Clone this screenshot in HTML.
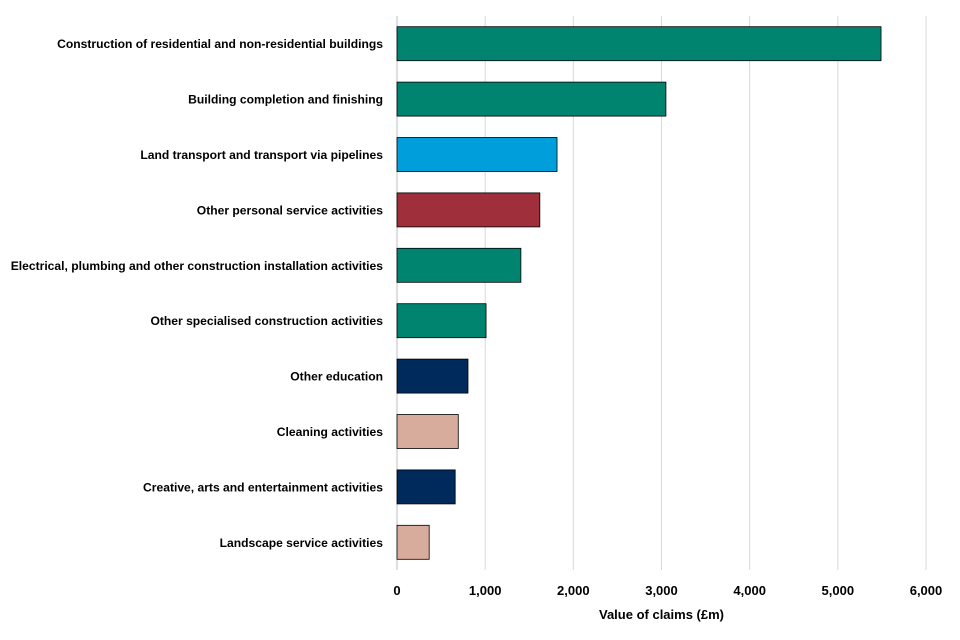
<!DOCTYPE html>
<html><head><meta charset="utf-8"><style>
html,body{margin:0;padding:0;background:#fff;}
svg{display:block;font-family:"Liberation Sans",Arial,sans-serif;}
</style></head><body>
<svg id="chart" width="960" height="640"></svg>
<script>
const categories=["Construction of residential and non-residential buildings","Building completion and finishing","Land transport and transport via pipelines","Other personal service activities","Electrical, plumbing and other construction installation activities","Other specialised construction activities","Other education","Cleaning activities","Creative, arts and entertainment activities","Landscape service activities"];
const values=[5490,3050,1815,1620,1405,1010,805,695,660,365];
const colorGroups=["construction","construction","transport","personal","construction","construction","education","cleaning","education","cleaning"];
const tickValues=[0,1000,2000,3000,4000,5000,6000];
const tickLabels=["0","1,000","2,000","3,000","4,000","5,000","6,000"];
const palette={construction:"#008470",transport:"#009fdb",personal:"#9e2f3b",education:"#002a5c",cleaning:"#d8ac9c"};
const NS="http://www.w3.org/2000/svg";
const svgEl=document.getElementById('chart');
const x0=397,x1=926,plotTop=16,plotBottom=570,xmax=6000;
const xs=v=>x0+(v/xmax)*(x1-x0);
const band=(plotBottom-plotTop)/categories.length;
const yc=i=>plotTop+band*(i+0.5);
const barH=34;
function mk(tag,attrs){const e=document.createElementNS(NS,tag);for(const k in attrs)e.setAttribute(k,attrs[k]);svgEl.appendChild(e);return e;}
tickValues.forEach((t,i)=>{
  const g=mk('line',{x1:xs(t),x2:xs(t),y1:plotTop,y2:plotBottom,stroke:t===0?'#bfbfbf':'#d9d9d9','stroke-width':1});
  
  
  const l=mk('text',{x:xs(t),y:595,'text-anchor':'middle','font-size':13,'font-weight':'bold',fill:'#000'});
  l.textContent=tickLabels[i];
  
  
});
categories.forEach((c,i)=>{
  const r=mk('rect',{x:x0,y:yc(i)-barH/2,width:xs(values[i])-x0,height:barH,fill:palette[colorGroups[i]],stroke:'#000','stroke-width':0.8});
  
  
  const t=mk('text',{x:383,y:yc(i)+4.5,'text-anchor':'end','font-size':12.1,'font-weight':'bold',fill:'#000'});
  t.textContent=c;
  
  
});
const at=mk('text',{x:(x0+x1)/2,y:619,'text-anchor':'middle','font-size':13,'font-weight':'bold',fill:'#000'});
at.textContent="Value of claims (£m)";


</script>
</body></html>
